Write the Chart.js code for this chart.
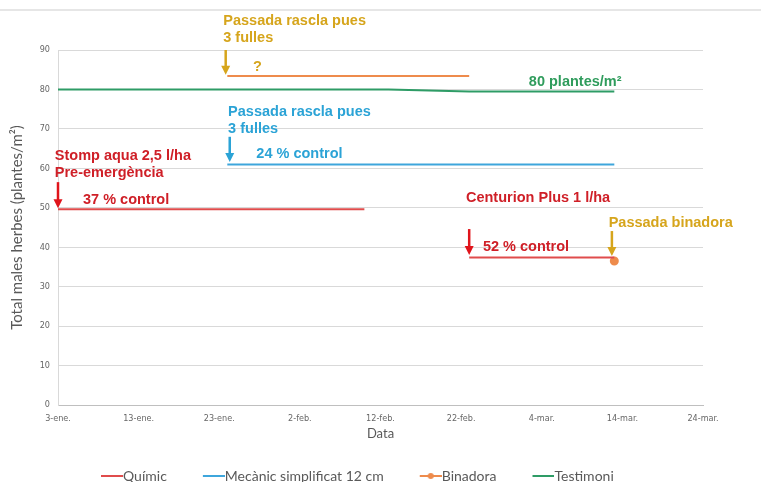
<!DOCTYPE html>
<html>
<head>
<meta charset="utf-8">
<script src="https://cdn.jsdelivr.net/npm/chart.js@4.4.1/dist/chart.umd.min.js"></script>
<style>
  html, body { margin: 0; padding: 0; background: #fff; }
</style>
</head>
<body>
<canvas id="weedChart" width="761" height="482"></canvas>
<script>
// x axis: days counted from 3 January
const startDate = '2021-01-03';
const tickLabels = ['3-ene.', '13-ene.', '23-ene.', '2-feb.', '12-feb.', '22-feb.', '4-mar.', '14-mar.', '24-mar.'];

const quimicDates = ['2021-01-03', '2021-02-10', '2021-02-16', '2021-02-23', '2021-03-13'];
const quimicValues = [49.6, 49.6, null, 37.4, 37.4];

const mecanicDates = ['2021-01-24', '2021-03-13'];
const mecanicValues = [61, 61];

const binadoraDates = ['2021-01-24', '2021-02-23', '2021-03-01', '2021-03-13'];
const binadoraValues = [83.4, 83.4, null, 36.5];

const testimoniDates = ['2021-01-03', '2021-02-13', '2021-02-23', '2021-03-13'];
const testimoniValues = [80, 80, 79.5, 79.5];

// annotations, placed in data units (day, value)
const gold = '#d6a51c', blue = '#2ba3d6', red = '#cf1f27', green = '#2f9c5c';
const noteTexts = [
  { lines: ['Passada rascla pues', '3 fulles'], color: gold, day: 20.5, value: 97.4 },
  { lines: ['?'], color: gold, day: 24.2, value: 85.7 },
  { lines: ['80 plantes/m\u00b2'], color: green, day: 58.4, value: 81.9 },
  { lines: ['Passada rascla pues', '3 fulles'], color: blue, day: 21.1, value: 74.3 },
  { lines: ['24 % control'], color: blue, day: 24.6, value: 63.6 },
  { lines: ['Stomp aqua 2,5 l/ha', 'Pre-emerg\u00e8ncia'], color: red, day: -0.4, value: 63.1 },
  { lines: ['37 % control'], color: red, day: 3.1, value: 52 },
  { lines: ['Centurion Plus 1 l/ha'], color: red, day: 50.6, value: 52.5 },
  { lines: ['52 % control'], color: red, day: 52.7, value: 40.1 },
  { lines: ['Passada binadora'], color: gold, day: 68.3, value: 46.1 }
];
const arrows = [
  { color: gold, day: 20.8, from: 90, to: 83.7 },
  { color: blue, day: 21.3, from: 68, to: 61.6 },
  { color: '#e0141b', day: 0, from: 56.5, to: 49.9 },
  { color: '#e0141b', day: 51, from: 44.6, to: 38 },
  { color: gold, day: 68.7, from: 44.1, to: 37.8 }
];

const dayOf = d => (Date.parse(d) - Date.parse(startDate)) / 86400000;
const toPoints = (dates, values) => dates.map((d, i) => ({ x: dayOf(d), y: values[i] }));

const lineColors = ['#e04c4c', '#3ea6dc', '#ee8b4c', '#2e9c66'];

// legend swatch: blank gap, then a short line (with a dot for Binadora)
function swatch(color, dot) {
  const c = document.createElement('canvas');
  c.width = 59; c.height = 10;
  const g = c.getContext('2d');
  g.strokeStyle = color; g.lineWidth = 2;
  g.beginPath(); g.moveTo(37, 5); g.lineTo(59, 5); g.stroke();
  if (dot) {
    g.fillStyle = color;
    g.beginPath(); g.arc(48, 5, 3, 0, Math.PI * 2); g.fill();
  }
  return c;
}
const swatches = lineColors.map((c, i) => swatch(c, i === 2));

const topRule = {
  id: 'topRule',
  beforeDraw(chart) {
    const ctx = chart.ctx;
    ctx.save();
    ctx.fillStyle = '#e6e6e6';
    ctx.fillRect(0, 9, chart.width, 2);
    ctx.restore();
  }
};

const legendShift = {
  id: 'legendShift',
  afterLayout(chart) {
    const lg = chart.legend;
    lg.left += 65; lg.right += 65;
    lg.top += 11; lg.bottom += 11;
  }
};

const notes = {
  id: 'notes',
  afterDatasetsDraw(chart) {
    const { ctx, scales: { x, y } } = chart;
    ctx.save();
    ctx.font = 'bold 14.5px "Liberation Sans", Arial, sans-serif';
    ctx.textBaseline = 'middle';
    ctx.textAlign = 'left';
    noteTexts.forEach(n => {
      ctx.fillStyle = n.color;
      n.lines.forEach((t, i) => {
        ctx.fillText(t, x.getPixelForValue(n.day), y.getPixelForValue(n.value) + i * 17);
      });
    });
    arrows.forEach(a => {
      const px = x.getPixelForValue(a.day);
      const y0 = y.getPixelForValue(a.from);
      const y1 = y.getPixelForValue(a.to);
      ctx.strokeStyle = a.color;
      ctx.fillStyle = a.color;
      ctx.lineWidth = 2.5;
      ctx.beginPath(); ctx.moveTo(px, y0); ctx.lineTo(px, y1 - 8); ctx.stroke();
      ctx.beginPath();
      ctx.moveTo(px - 4.5, y1 - 9); ctx.lineTo(px + 4.5, y1 - 9); ctx.lineTo(px, y1);
      ctx.closePath(); ctx.fill();
    });
    ctx.restore();
  }
};

const tickFont = { family: '"Liberation Sans Narrow", "DejaVu Sans Condensed", sans-serif', size: 9 };

new Chart(document.getElementById('weedChart'), {
  type: 'line',
  data: {
    datasets: [
      { label: 'Qu\u00edmic', data: toPoints(quimicDates, quimicValues), borderColor: lineColors[0] },
      { label: 'Mec\u00e0nic simplificat 12 cm', data: toPoints(mecanicDates, mecanicValues), borderColor: lineColors[1] },
      { label: 'Binadora', data: toPoints(binadoraDates, binadoraValues), borderColor: lineColors[2],
        backgroundColor: lineColors[2], pointRadius: [0, 0, 0, 3.5] },
      { label: 'Testimoni', data: toPoints(testimoniDates, testimoniValues), borderColor: lineColors[3] }
    ].map(ds => Object.assign({ borderWidth: 2, pointRadius: 0, spanGaps: false, tension: 0 }, ds))
  },
  options: {
    responsive: false,
    animation: false,
    layout: { padding: { top: 50, right: 58, bottom: 0, left: 0 } },
    scales: {
      x: {
        type: 'linear',
        min: 0,
        max: 80,
        grid: { display: false, drawTicks: false },
        border: { display: true, color: '#bfbfbf', width: 1 },
        ticks: {
          stepSize: 10,
          padding: 8,
          color: '#666',
          font: tickFont,
          maxRotation: 0,
          callback: v => tickLabels[v / 10]
        },
        title: {
          display: true,
          text: 'Data',
          color: '#595959',
          font: { family: 'Lato, sans-serif', size: 13 },
          padding: { top: 0, bottom: 10 }
        },
        afterFit: s => { s.height = 47; }
      },
      y: {
        min: 0,
        max: 90,
        grid: { color: '#d9d9d9', drawTicks: false },
        border: { display: true, color: '#d9d9d9' },
        ticks: { stepSize: 10, padding: 8, color: '#666', font: tickFont },
        title: {
          display: true,
          text: 'Total males herbes (plantes/m\u00b2)',
          color: '#595959',
          font: { family: 'Lato, sans-serif', size: 15 },
          padding: { top: 8, bottom: 0 }
        },
        afterFit: s => { s.width = 58; }
      }
    },
    plugins: {
      tooltip: { enabled: false },
      legend: {
        position: 'bottom',
        align: 'start',
        labels: {
          usePointStyle: true,
          pointStyleWidth: 45,
          padding: 6,
          color: '#595959',
          font: { family: 'Lato, sans-serif', size: 14 },
          generateLabels: chart => Chart.defaults.plugins.legend.labels.generateLabels(chart)
            .map((item, i) => Object.assign(item, { pointStyle: swatches[i] }))
        }
      }
    }
  },
  plugins: [topRule, legendShift, notes]
});
</script>
</body>
</html>
